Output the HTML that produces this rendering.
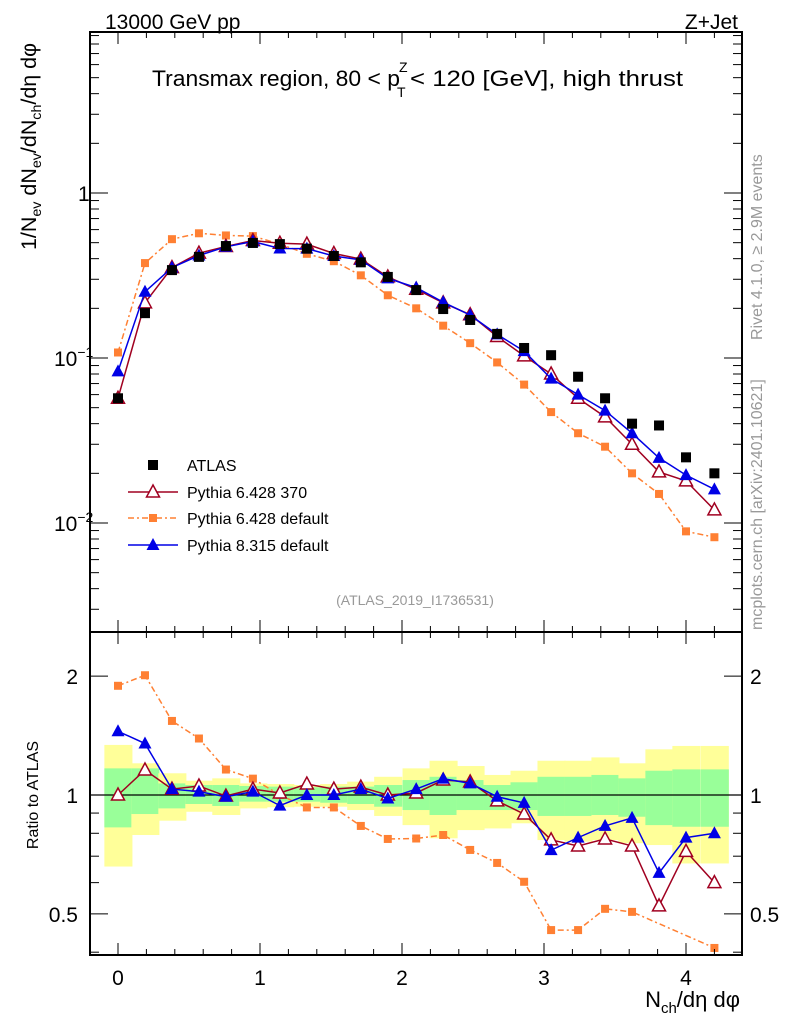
<!DOCTYPE html>
<html><head><meta charset="utf-8"><style>
html,body{margin:0;padding:0;background:#fff;}
svg{display:block;font-family:"Liberation Sans",Arial,sans-serif;}
</style></head><body>
<svg id="c" width="786" height="1024" viewBox="0 0 786 1024">
<text x="105" y="29" font-size="21">13000 GeV pp</text>
<text x="738" y="29" font-size="21" text-anchor="end">Z+Jet</text>
<g>
<text x="152" y="86" font-size="22" textLength="248" lengthAdjust="spacingAndGlyphs">Transmax region, 80 &lt; p</text>
<text x="399" y="72" font-size="14">Z</text>
<text x="397" y="97" font-size="14">T</text>
<text x="410" y="86" font-size="22" textLength="273" lengthAdjust="spacingAndGlyphs">&lt; 120 [GeV], high thrust</text>
</g>
<text transform="translate(762,340) rotate(-90)" font-size="16" fill="#999">Rivet 4.1.0, ≥ 2.9M events</text>
<text transform="translate(762,630) rotate(-90)" font-size="16" fill="#999">mcplots.cern.ch [arXiv:2401.10621]</text>
<text x="415" y="605" font-size="14" fill="#999" text-anchor="middle">(ATLAS_2019_I1736531)</text>
<text transform="translate(36,250) rotate(-90)" font-size="21" textLength="207" lengthAdjust="spacingAndGlyphs">1/N<tspan font-size="14" dy="5">ev</tspan><tspan dy="-5"> dN</tspan><tspan font-size="14" dy="5">ev</tspan><tspan dy="-5">/dN</tspan><tspan font-size="14" dy="5">ch</tspan><tspan dy="-5">/dη dφ</tspan></text>
<text transform="translate(38,795) rotate(-90)" font-size="16" text-anchor="middle">Ratio to ATLAS</text>
<text x="740" y="1007" font-size="22" text-anchor="end">N<tspan font-size="15" dy="6">ch</tspan><tspan dy="-6">/dη dφ</tspan></text>
<g id="bands"></g><g id="plots"></g><g id="axes"></g><g id="legend"></g>
</svg>
<script>
const xs=[0,0.19,0.38,0.57,0.76,0.95,1.14,1.33,1.52,1.71,1.9,2.1,2.29,2.48,2.67,2.86,3.05,3.24,3.43,3.62,3.81,4.0,4.2];
const atlas=[0.057,0.187,0.341,0.41,0.477,0.498,0.49,0.46,0.415,0.38,0.31,0.258,0.198,0.17,0.14,0.115,0.104,0.077,0.057,0.04,0.039,0.025,0.02];
const py6_370=[0.057,0.216,0.353,0.432,0.474,0.515,0.496,0.49,0.43,0.398,0.31,0.261,0.216,0.183,0.135,0.103,0.080,0.057,0.044,0.030,0.0204,0.018,0.012];
const py6_def=[0.108,0.376,0.525,0.57,0.553,0.548,0.49,0.428,0.386,0.317,0.24,0.2,0.157,0.123,0.094,0.069,0.047,0.035,0.029,0.020,0.015,0.0089,0.0082];
const py8_def=[0.083,0.252,0.353,0.418,0.472,0.508,0.461,0.46,0.415,0.393,0.304,0.267,0.218,0.182,0.139,0.11,0.075,0.06,0.048,0.035,0.0248,0.0195,0.016];
const r6_370=[1.0,1.157,1.035,1.054,0.994,1.035,1.012,1.066,1.035,1.047,1.0,1.012,1.091,1.079,0.966,0.895,0.77,0.743,0.774,0.743,0.524,0.72,0.6];
const r6_def=[1.89,2.01,1.54,1.39,1.16,1.10,1.0,0.93,0.93,0.835,0.774,0.776,0.792,0.726,0.673,0.603,0.455,0.455,0.515,0.506,0.35,0.3,0.41];
const r8_def=[1.45,1.35,1.035,1.02,0.99,1.02,0.94,1.0,1.0,1.035,0.98,1.035,1.10,1.07,0.99,0.955,0.725,0.78,0.835,0.875,0.635,0.78,0.80];
const yelHi=[1.339,1.203,1.135,1.087,1.102,1.070,1.066,1.060,1.066,1.081,1.112,1.168,1.221,1.184,1.124,1.152,1.221,1.221,1.245,1.203,1.305,1.331,1.331];
const grnHi=[1.168,1.168,1.070,1.060,1.060,1.054,1.050,1.046,1.050,1.050,1.060,1.091,1.112,1.091,1.060,1.077,1.112,1.112,1.124,1.102,1.152,1.161,1.161];
const grnLo=[0.828,0.895,0.925,0.949,0.938,0.962,0.962,0.962,0.956,0.949,0.934,0.916,0.890,0.916,0.916,0.916,0.885,0.885,0.890,0.881,0.839,0.831,0.831];
const yelLo=[0.659,0.792,0.861,0.907,0.890,0.925,0.931,0.934,0.934,0.916,0.885,0.839,0.777,0.815,0.823,0.848,0.769,0.762,0.769,0.755,0.747,0.671,0.671];
const xTicks=[0,1,2,3,4];
const NS="http://www.w3.org/2000/svg";
const L=90,R=742,T=32,MB=632,RB=955;
const X=v=>118+v*142;
const Y=v=>193-Math.log10(v)*165;
const RY=v=>795-Math.log10(v)*395;
function mk(tag,attrs,parent){const e=document.createElementNS(NS,tag);for(const k in attrs)e.setAttribute(k,attrs[k]);document.getElementById(parent).appendChild(e);return e;}
const hw=0.096;
for(let i=0;i<xs.length;i++){
 const x0=Math.max(X(xs[i]-hw),L+12),x1=X(xs[i]+hw)+0.8;
 let e=mk('rect',{x:x0,y:RY(yelHi[i]),width:x1-x0,height:RY(yelLo[i])-RY(yelHi[i]),fill:'#ffff99'},'bands');
 
 
 e=mk('rect',{x:x0,y:RY(grnHi[i]),width:x1-x0,height:RY(grnLo[i])-RY(grnHi[i]),fill:'#99ff99'},'bands');
 
 
}
let ln=mk('line',{x1:L,x2:R,y1:RY(1),y2:RY(1),stroke:'#000','stroke-width':1.3},'bands');


function clip(y,top,bot){return Math.min(Math.max(y,top),bot);}
function series(vals,yf,top,bot,color,dash,marker,name){
 const pts=xs.map((x,i)=>[X(x),yf(vals[i])]).filter(p=>p[1]<=bot+2);
 const pl=mk('polyline',{points:pts.map(p=>p[0]+','+clip(p[1],top,bot)).join(' '),fill:'none',stroke:color,'stroke-width':1.5,'stroke-dasharray':dash},'plots');
 
 
 pts.forEach(p=>{ if(p[1]>bot||p[1]<top)return; drawMarker(p[0],p[1],color,marker,name,'plots');});
}
function drawMarker(x,y,color,marker,name,g){
 let e;
 if(marker==='sq') e=mk('rect',{x:x-5,y:y-5,width:10,height:10,fill:color},g);
 else if(marker==='osq') e=mk('rect',{x:x-4,y:y-4,width:8,height:8,fill:color},g);
 else if(marker==='tri') e=mk('polygon',{points:`${x},${y-7} ${x-6.5},${y+5} ${x+6.5},${y+5}`,fill:color},g);
 else e=mk('polygon',{points:`${x},${y-7} ${x-6.5},${y+5} ${x+6.5},${y+5}`,fill:'#fff',stroke:color,'stroke-width':1.5},g);
 
 
}
series(py6_def,Y,T,MB,'#ff8033','6,3,2,3','osq','pythia6-default');
series(py6_370,Y,T,MB,'#a00020','','otri','pythia6-370');
series(py8_def,Y,T,MB,'#0000e6','','tri','pythia8-default');
xs.forEach((x,i)=>drawMarker(X(x),Y(atlas[i]),'#000','sq','atlas','plots'));
series(r6_def,RY,MB,RB,'#ff8033','6,3,2,3','osq','ratio-pythia6-default');
series(r6_370,RY,MB,RB,'#a00020','','otri','ratio-pythia6-370');
series(r8_def,RY,MB,RB,'#0000e6','','tri','ratio-pythia8-default');
let f=mk('rect',{x:L,y:T,width:R-L,height:MB-T,fill:'none',stroke:'#000','stroke-width':2},'axes');


f=mk('rect',{x:L,y:MB,width:R-L,height:RB-MB,fill:'none',stroke:'#000','stroke-width':2},'axes');


function tick(x1,y1,x2,y2){mk('line',{x1,y1,x2,y2,stroke:'#000','stroke-width':1},'axes');}
for(let v=-0.2;v<=4.4;v+=0.2){const x=X(v);if(x<L||x>R)continue;const maj=Math.abs(v-Math.round(v))<0.01;const s=maj?12:6;
 tick(x,T,x,T+s);tick(x,MB,x,MB-s);tick(x,MB,x,MB+s);tick(x,RB,x,RB-s);}
xTicks.forEach(v=>{const t=mk('text',{x:X(v),y:985,'font-size':21,'text-anchor':'middle'},'axes');t.textContent=v;
 
 });
for(let d=-3;d<=0;d++)for(let m=1;m<10;m++){const v=m*Math.pow(10,d);const y=Y(v);if(y<T||y>MB)continue;const s=m===1?18:9;tick(L,y,L+s,y);tick(R,y,R-s,y);}
const mainLab=[[1,'1'],[0.1,'10<tspan font-size="14" dy="-9">−1</tspan>'],[0.01,'10<tspan font-size="14" dy="-9">−2</tspan>']];
mainLab.forEach(([v,s])=>{const t=mk('text',{x:v===1?78:54,y:Y(v)+8,'font-size':21},'axes');t.innerHTML=s;
 
 });
[0.4,0.5,0.6,0.7,0.8,0.9,1,2].forEach(v=>{const y=RY(v);if(y<MB||y>RB)return;const s=(v===1||v===2||v===0.5)?18:9;tick(L,y,L+s,y);tick(R,y,R-s,y);});
[[2,'2'],[1,'1'],[0.5,'0.5']].forEach(([v,s])=>{
 let t=mk('text',{x:78,y:RY(v)+8,'font-size':21,'text-anchor':'end'},'axes');t.textContent=s;
 
 
 t=mk('text',{x:750,y:RY(v)+8,'font-size':21},'axes');t.textContent=s;
 
 });
const leg=[['ATLAS','#000','','sq',465],['Pythia 6.428 370','#a00020','','otri',492],['Pythia 6.428 default','#ff8033','6,3,2,3','osq',518],['Pythia 8.315 default','#0000e6','','tri',545]];
leg.forEach(([lab,c,d,m,y])=>{
 if(m!=='sq'){const l=mk('line',{x1:128,x2:178,y1:y,y2:y,stroke:c,'stroke-width':1.5,'stroke-dasharray':d},'legend');
  
  }
 drawMarker(153,y,c,m,'legend','legend');
 const t=mk('text',{x:187,y:y+6,'font-size':16},'legend');t.textContent=lab;
 
 
});
</script>
</body></html>
